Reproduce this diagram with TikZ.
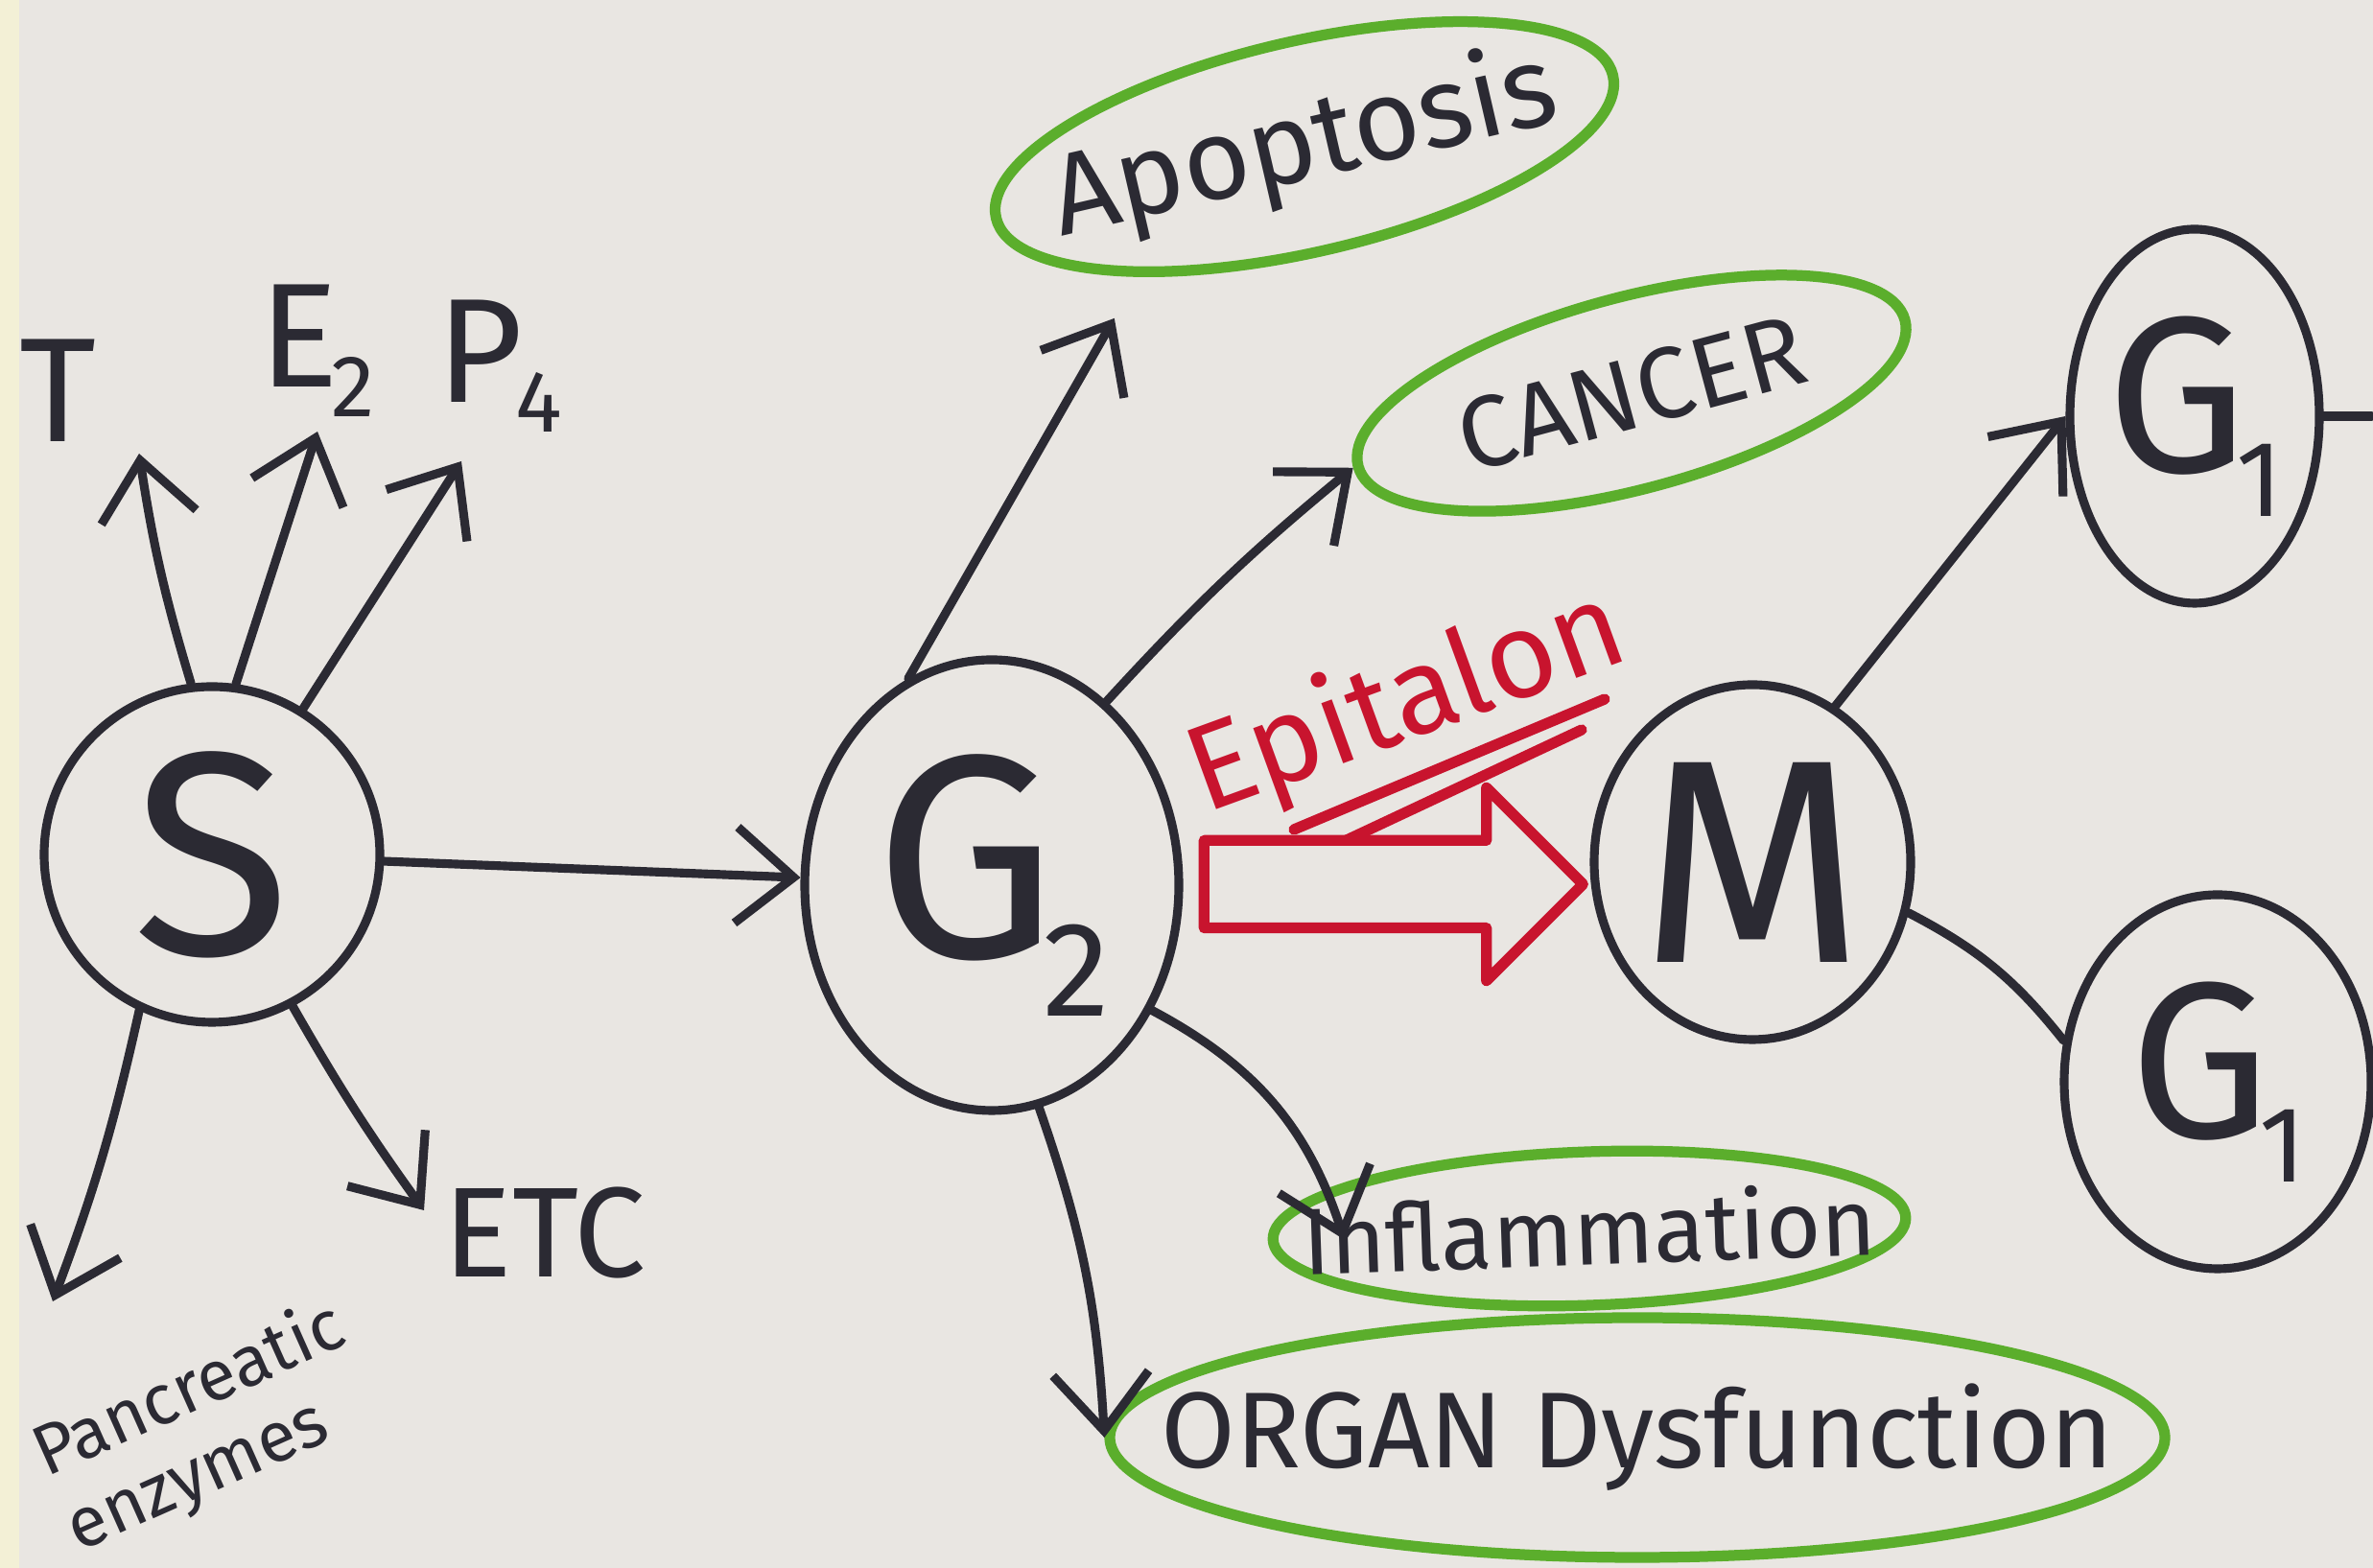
\documentclass[tikz,border=0pt]{standalone}
\usepackage{fontspec}
\setmainfont{Fira Sans}
\usetikzlibrary{positioning,shapes.geometric,shapes.arrows,arrows.meta}

\definecolor{ink}{HTML}{2B2A33}
\definecolor{leaf}{HTML}{5BAE2C}
\definecolor{marker}{HTML}{C8142E}
\definecolor{paper}{HTML}{E9E6E2}
\definecolor{margin}{HTML}{F3F0D6}

\tikzset{
	phase/.style={draw=ink, ellipse, line width=2.6pt, inner sep=-4mm, text=ink, font=\fontsize{86}{86}\selectfont},
	fate/.style={draw=leaf, ellipse, line width=3.2pt, inner xsep=-1cm, inner ysep=0pt, text=ink},
	flow/.style={->, draw=ink, line width=2.6pt},
	tag/.style={text=ink, inner sep=3pt},
	redline/.style={draw=marker, line width=3.2pt},
}
\newcommand{\sub}[2]{\kern-.05em\raisebox{-.2em}{\fontsize{#1}{#1}\selectfont #2}}

\begin{document}
\begin{tikzpicture}[>={Straight Barb[length=6mm,width=10mm]}, line cap=round, line join=round]
	\useasboundingbox (0,0) rectangle (24.74,16.35);
	\fill[margin] (0,0) rectangle (0.2,16.35);
	\fill[paper] (0.2,0) rectangle (24.74,16.35);

	% cell cycle phases
	\node[phase, minimum width=3.5cm, minimum height=3.5cm] (s) at (2.21,7.44) {S};
	\node[phase, minimum width=3.9cm, minimum height=4.7cm] (g2) at (10.34,7.12) {G\sub{40}{2}};
	\node[phase, minimum width=3.3cm, minimum height=3.7cm] (m) at (18.27,7.36) {M};
	\node[phase, minimum width=2.6cm, minimum height=3.9cm, font=\fontsize{66}{66}\selectfont] (g1a) at (22.88,12.01) {G\sub{32}{1}};
	\node[phase, minimum width=3.2cm, minimum height=3.9cm, font=\fontsize{66}{66}\selectfont] (g1b) at (23.12,5.07) {G\sub{32}{1}};

	% outcomes
	\node[fate, rotate=13, minimum width=6.6cm, minimum height=2.2cm, font=\fontsize{34}{34}\selectfont] (apop) at (13.60,14.82) {Apoptosis};
	\node[fate, rotate=15, minimum width=5.9cm, minimum height=2.0cm, font=\fontsize{30}{30}\selectfont] (cancer) at (17.01,12.25) {CANCER};
	\node[fate, rotate=2, minimum width=6.6cm, minimum height=1.6cm, font=\fontsize{28}{28}\selectfont] (inflam) at (16.57,3.54) {Inflammation};
	\node[fate, minimum width=11cm, minimum height=2.5cm, inner xsep=-1.6cm, font=\fontsize{32}{32}\selectfont] (organ) at (17.07,1.36) {ORGAN Dysfunction};

	% labels round S
	\node[tag, font=\fontsize{44}{44}\selectfont] (t) at (0.60,12.28) {T};
	\node[tag, font=\fontsize{44}{44}\selectfont] (e2) at (3.31,12.69) {E\sub{26}{2}};
	\node[tag, font=\fontsize{44}{44}\selectfont] (p4) at (5.21,12.53) {P\sub{26}{4}};
	\node[tag, font=\fontsize{38}{38}\selectfont] (etc) at (5.68,3.49) {ETC};
	\node[tag, rotate=24, align=left, font=\fontsize{21}{24}\selectfont] (panc) at (2.15,1.45) {Pancreatic\\enzymes};
	\coordinate (tTip) at (1.45,11.62);
	\coordinate (e2Tip) at (3.31,11.85);
	\coordinate (p4Tip) at (4.81,11.54);
	\coordinate (pancTip) at (0.55,2.78);
	\coordinate (etcTip) at (4.42,3.73);

	% drug
	\node[single arrow, draw=marker, line width=3.2pt, minimum height=3.95cm, minimum width=1.9cm, inner sep=0.4cm, single arrow head extend=0.55cm] (push) at (14.30,7.13) {};
	\node[text=marker, rotate=20, font=\fontsize{36}{36}\selectfont] (epit) at (14.67,9.01) {Epitalon};
	\draw[redline] ([shift={(-1.18,-1.31)}]epit.center) -- ([shift={(2.06,0.05)}]epit.center);
	\draw[redline] ([shift={(-0.63,-1.42)}]epit.center) -- ([shift={(1.82,-0.27)}]epit.center);

	% S outputs
	\draw[flow] (s.97) to[bend left=4] (tTip);
	\draw[flow] (s.82) -- (e2Tip);
	\draw[flow] (s.58) -- (p4Tip);
	\draw[flow] (s.245) to[bend left=4] (pancTip);
	\draw[flow] (s.-62) to[bend right=3] (etcTip);
	\draw[flow] (s) -- (g2);

	% G2 outputs
	\draw[flow, shorten >=5mm] (g2.112) -- (apop.205);
	\draw[flow] (g2.58) to[bend left=4] (cancer.west);
	\draw[flow] (g2.-38) to[bend left=22] ([xshift=8mm]inflam.west);
	\draw[flow] (g2.-78) to[bend left=8] (organ.west);

	% M outputs
	\draw[flow] (m.62) -- (g1a.west);
	\draw[ink, line width=2.6pt] (m.-18) to[bend left=12] (g1b.165);
	\draw[ink, line width=2.6pt] (g1a.east) -- ++(0.5,0);
	\draw[ink, line width=2.6pt] (g1b.east) -- ++(0.5,0);
\end{tikzpicture}
\end{document}
